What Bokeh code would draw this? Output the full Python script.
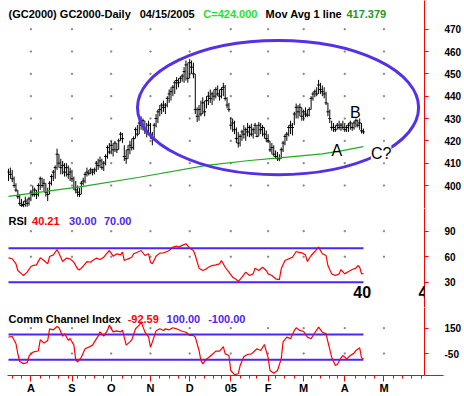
from bokeh.plotting import figure
from bokeh.layouts import column
from bokeh.models import Range1d, FixedTicker, Label
from bokeh.embed import file_html
from bokeh.resources import INLINE

FONT = "Liberation Sans"

# ---------------- data (daily bars, index 0 = 07/15/2004, last = 04/15/2005) -------------
high = [407.5, 408, 407, 404, 401, 398, 396, 394, 393, 395,
        394, 395, 398, 400, 399, 398, 401, 404, 403.5, 403,
        401, 399, 402, 405, 407, 409, 416.5, 414, 412, 411,
        410, 410, 409, 408, 407, 404, 402, 400, 399, 402,
        403.5, 406, 408, 407, 408, 407.5, 408, 411, 412, 413,
        412, 411, 414, 418, 419, 420, 419, 420, 419, 421,
        424, 423.5, 418, 416, 418, 420, 421, 422, 426, 427,
        429, 431, 430, 429, 428, 429, 428, 424, 428, 432,
        434, 436, 437, 438, 437, 440, 443, 444, 445, 447,
        448.5, 448, 449, 450, 453, 456, 455, 456.7, 456, 455,
        450, 435, 436, 438, 439.5, 438, 440, 442, 443, 442,
        443, 444, 444.8, 443, 444, 446, 445, 439.5, 437, 430.6,
        430, 429, 426, 424, 423, 425, 427, 426, 428, 427,
        427.7, 426, 428, 427, 428.4, 428, 427, 426, 424.6, 423,
        420, 419, 418, 415.7, 415, 414, 417, 420, 423, 424,
        427, 429, 428, 433, 436.7, 436, 436.7, 435, 434, 435,
        434, 435, 440, 442, 443, 444, 447.3, 446, 444.8, 444,
        442, 437, 434, 429, 428, 427, 428, 429, 428, 429,
        428, 427, 428, 429, 428, 429, 430, 429.5, 430, 428,
        425.5]
low = [402, 403, 401.5, 399, 397, 394, 391, 390.5, 390.3, 390.5,
       390.5, 391, 393, 395, 395, 394, 395, 398, 399, 397,
       395, 393, 396, 400, 402, 403, 407, 408, 405, 405,
       404, 404, 403, 402, 401.5, 398, 396.5, 395, 394.8, 396,
       400, 401, 404, 404.5, 405, 404.5, 405, 406, 407, 408,
       407, 406.5, 409, 412, 414, 414, 413, 415, 414.5, 416,
       420, 419, 411, 409.7, 412, 414, 415.7, 416, 421, 422,
       423, 425, 424.6, 423, 421.6, 423, 421, 418, 421, 426,
       428, 431, 432, 433, 432, 435, 437, 438, 440, 441,
       443, 444, 446, 446.5, 446, 447, 446, 448, 450, 448,
       432, 428.4, 429, 431, 432, 431, 434.5, 436, 437, 436,
       438, 439, 440, 438, 439, 440, 438, 434.5, 433, 425,
       424, 423, 419, 417, 417.5, 420, 421, 420, 422, 421.6,
       422, 421, 423, 421.6, 422, 423, 422, 421, 419.4, 419,
       415, 414, 413, 412, 411, 410.9, 412, 415, 418, 420,
       422, 423, 422.4, 427, 430, 430, 431, 429, 429, 430.6,
       430.6, 431, 434, 438, 439.5, 440, 441, 441, 440, 439,
       436, 431, 428, 424.6, 424, 424, 425, 425, 424.5, 425,
       424, 424, 424, 425, 424.5, 425, 426, 426, 425, 423.3,
       423]
close = [406, 405, 403, 400, 398, 395, 392, 391, 391.5, 393,
         392, 394, 397, 396, 398, 396, 400, 403, 400, 401,
         397, 396, 401, 404, 406, 408, 414, 410, 408, 409,
         406, 408, 405, 406, 403, 399, 398, 397, 396, 401,
         402, 405, 406, 405.5, 407, 406, 407, 410, 409, 411,
         408, 410, 413, 417, 415, 418, 416, 419, 416, 420,
         423, 421, 413, 412, 416, 418, 417, 421, 425, 423,
         428, 427, 429, 425, 424, 427, 423, 421, 427, 430,
         433, 434, 436, 435, 436, 439, 441, 442, 444, 446,
         447, 446, 448, 449, 451, 454, 448, 455, 453, 450,
         434, 431, 434, 432, 437, 433, 438, 440, 439, 441,
         440, 443, 441, 440, 443, 444, 439, 436, 434, 427,
         428, 425, 421, 419, 422, 424, 423, 425, 424, 426,
         423, 425, 427, 422, 427, 425, 426, 423, 421, 420,
         416, 417, 414, 413, 412, 412, 416, 419, 422, 423,
         426, 427, 426, 432, 435, 433, 435, 431, 433, 432,
         431.5, 434, 439, 441, 442, 441, 445, 443, 442, 441,
         437, 433, 430, 426, 426, 425, 427, 426, 427, 426,
         425, 426, 427, 428, 426, 428, 429, 427, 428, 424.5,
         424]

# moving average line, read at a few bars
ma_bar = [0, 40, 70, 106, 129, 145, 168, 178, 190]
ma_val = [395.1, 399.6, 403.7, 409.0, 411.2, 412.4, 414.2, 415.5, 417.379]

# RSI readings (bar, value)
rsi_bar = [0, 2, 4, 5, 7, 8, 10, 12, 13, 15, 17, 19, 21, 22, 24, 26, 28, 29, 31, 33,
           35, 37, 38, 40, 42, 44, 45, 47, 49, 51, 52, 54, 56, 58, 60, 61, 62, 64, 66, 67,
           69, 71, 73, 75, 76, 77, 79, 81, 83, 84, 86, 88, 90, 91, 93, 95, 97, 99, 100, 102,
           104, 106, 107, 109, 111, 113, 114, 116, 118, 120, 122, 123, 125, 127, 129, 131, 132, 134, 136, 138,
           139, 141, 143, 145, 146, 148, 150, 152, 154, 155, 157, 159, 160, 162, 164, 166, 168, 170, 171, 173,
           175, 177, 178, 180, 182, 184, 186, 187, 188, 189, 190]
rsi_val = [58.7, 57.6, 51.6, 43.8, 39.8, 37.9, 41.8, 48.5, 49.6, 50.4, 58.7, 55.5, 51.6, 60.2, 62.2, 68.4, 59.4, 54.3, 58.3, 57.5,
           53.5, 45.7, 44.5, 48.8, 54.3, 53.5, 55.5, 58.3, 56.7, 59.4, 62.2, 67.3, 60.6, 63.4, 62.2, 65.3, 55.5, 57.5, 59.4, 63.4,
           65.3, 67.3, 61.4, 63.4, 53.5, 51.6, 60.6, 64.2, 64.6, 65.3, 67.3, 71.3, 72.5, 71.3, 73.3, 75.3, 70.0, 67.3, 61.4, 46.5,
           43.7, 45.7, 47.6, 49.6, 50.4, 51.6, 55.5, 47.6, 41.8, 35.9, 33.1, 30.8, 35.9, 41.8, 37.9, 39.8, 46.5, 43.7, 47.6, 43.7,
           39.8, 37.9, 34.0, 33.1, 45.7, 55.5, 57.5, 59.4, 66.1, 65.3, 64.5, 62.2, 54.3, 61.4, 66.1, 71.3, 63.4, 61.4, 49.6, 39.8,
           37.9, 39.8, 44.9, 39.8, 42.6, 44.9, 46.5, 49.6, 47.6, 39.8, 40.21]
rsi_levels = [30, 70]
rsi_ticks = [30, 60, 90]

# Commodity Channel Index readings (bar, value)
cci_bar = [0, 2, 4, 5, 6, 8, 10, 11, 13, 14, 16, 17, 19, 21, 22, 24, 26, 27, 29, 30,
           32, 33, 35, 36, 37, 39, 41, 43, 45, 46, 48, 49, 51, 53, 54, 56, 58, 60, 61, 63,
           65, 66, 68, 70, 71, 73, 75, 76, 77, 79, 81, 83, 84, 86, 88, 90, 92, 93, 95, 97,
           99, 100, 102, 103, 104, 106, 107, 109, 111, 113, 115, 116, 118, 119, 121, 123, 124, 126, 128, 130,
           131, 133, 135, 137, 139, 140, 142, 144, 146, 147, 149, 151, 153, 154, 156, 158, 160, 162, 163, 166,
           168, 170, 171, 173, 175, 176, 178, 179, 181, 183, 185, 186, 188, 189, 190]
cci_val = [79, 84, 27, -52, -113, -130, -122, -70, -40, -35, -30, 58, 32, 53, 145, 137, 163, 153, 87, 108,
           55, 68, 16, -100, -117, -80, -13, 0, 16, 42, 87, 121, 87, 134, 174, 121, 129, 121, 134, 16,
           42, 58, 145, 174, 200, 121, 79, 0, 40, 130, 145, 132, 145, 137, 153, 145, 132, 126, 118, 92,
           92, 79, -26, -105, -132, -92, -84, -58, -31, -31, 5, -53, -66, -184, -216, -210, -145, -74, -58, -53,
           -40, -13, -26, 21, -84, -184, -205, -184, -92, 42, 79, 66, 132, 153, 132, 124, 79, 66, 92, 158,
           118, 105, 42, -79, -145, -137, -84, -66, -92, -66, -47, -26, -5, -84, -92.59]
cci_levels = [100, -100]
cci_ticks = [150, -50]
cci_tick_labels = {150: "150", -50: "-50"}

price_ticks = [400, 410, 420, 430, 440, 450, 460, 470]

month_start_bar = [12, 34, 55, 76, 97, 119, 139, 158, 180, 201]
month_labels = ["A", "S", "O", "N", "D", "05", "F", "M", "A", "M"]
week_bar = [2, 7, 17, 22, 27, 32, 37, 41, 46, 51, 61, 66, 71, 81, 86, 91, 95, 100, 105, 110,
            114, 124, 129, 133, 143, 148, 153, 162, 167, 172, 176, 186, 191, 196, 206, 211, 216, 221]

# drawn ellipse annotation (bar units / price units)
ell_x, ell_y, ell_w, ell_h = 144.3, 434.9, 150.5, 60.1

# ---------------------------------------------------------------------------------------
bars = list(range(len(close)))
x_range = Range1d(-0.53, 222.7)

PURPLE = "#4f24f5"
ELL = "#5530e8"


def make_fig(height, y_range, bottom=False):
    p = figure(width=464, height=height, x_range=x_range, y_range=y_range,
               output_backend="svg", toolbar_location=None, title=None,
               x_axis_location="below" if bottom else None, y_axis_location="right",
               min_border_left=7, min_border_right=37, min_border_top=0,
               min_border_bottom=21 if bottom else 0)
    p.outline_line_color = None
    p.xgrid.visible = False
    p.ygrid.visible = False
    p.background_fill_color = "white"
    p.border_fill_color = "white"
    ax = p.yaxis[0]
    ax.axis_line_color = "red"
    ax.major_tick_line_color = "red"
    ax.minor_tick_line_color = "red"
    ax.major_tick_out = 4
    ax.major_tick_in = 0
    ax.minor_tick_out = 19
    ax.minor_tick_in = 0
    ax.major_label_standoff = 1
    ax.major_label_text_font = FONT
    ax.major_label_text_font_size = "10px"
    ax.major_label_text_font_style = "bold"
    ax.major_label_text_color = "black"
    return p


def lab(p, x, y, text, color="black", size="11px", style="bold", bg=None):
    l = Label(x=x, y=y, text=text, text_color=color, text_font=FONT,
              text_font_size=size, text_font_style=style,
              text_baseline="alphabetic", text_align="left")
    if bg is not None:
        l.background_fill_color = bg
    p.add_layout(l)


def grid_dots(p, ys):
    gx = [m for m in month_start_bar for _ in ys]
    gy = [v for _ in month_start_bar for v in ys]
    p.scatter(gx, gy, marker="square", size=1.2, color="#8a8a8a")


# ---------------- price panel ----------------
p1 = make_fig(208, Range1d(389.7, 482.85))
p1.yaxis[0].ticker = FixedTicker(ticks=price_ticks, minor_ticks=[389.78])
grid_dots(p1, price_ticks)
p1.segment(x0=bars, y0=low, x1=bars, y1=high, line_color="black", line_width=1)
p1.scatter(bars, close, marker="dash", size=3, line_color="black", line_width=1)
p1.line(ma_bar, ma_val, line_color="#22aa22", line_width=1.2)
p1.ellipse(x=[ell_x], y=[ell_y], width=[ell_w], height=[ell_h],
           fill_color=None, line_color=ELL, line_width=3)

title_y = 476.7
lab(p1, 0, title_y, "(GC2000) GC2000-Daily")
lab(p1, 70.2, title_y, "04/15/2005")
lab(p1, 104.3, title_y, "C=%.3f" % close[-1], color="#22e622")
lab(p1, 137.6, title_y, "Mov Avg 1 line")
lab(p1, 180.9, title_y, "%.3f" % ma_val[-1], color="#1a9a1a")
lab(p1, 172.9, 415.7, "A", size="16px", style="normal")
lab(p1, 182.8, 432.8, "B", size="16px", style="normal")
lab(p1, 194.0, 414.2, "C?", size="16px", style="normal", bg="white")

# ---------------- RSI panel ----------------
p2 = make_fig(99, Range1d(0.24, 116.7))
p2.yaxis[0].ticker = FixedTicker(ticks=rsi_ticks, minor_ticks=[0.4])
grid_dots(p2, [90, 60])
for lv in rsi_levels:
    p2.line([bars[0], bars[-1]], [lv, lv], line_color=PURPLE, line_width=2)
p2.line(rsi_bar, rsi_val, line_color="red", line_width=1.2)
lab(p2, 0, 101.8, "RSI")
lab(p2, 12.6, 101.8, "%.2f" % rsi_val[-1], color="red")
lab(p2, 32.4, 101.8, "%.2f" % rsi_levels[0], color=PURPLE)
lab(p2, 51.1, 101.8, "%.2f" % rsi_levels[1], color=PURPLE)
lab(p2, 184.6, 18.2, "40", size="16px", bg="white")
lab(p2, 219.5, 18.2, "4", size="16px")

# ---------------- CCI panel ----------------
p3 = make_fig(89, Range1d(-223.6, 313.1), bottom=True)
p3.yaxis[0].ticker = FixedTicker(ticks=cci_ticks, minor_ticks=[-223.3])
p3.yaxis[0].major_label_overrides = cci_tick_labels
grid_dots(p3, cci_ticks)
for lv in cci_levels:
    p3.line([bars[0], bars[-1]], [lv, lv], line_color=PURPLE, line_width=2)
p3.line(cci_bar, cci_val, line_color="red", line_width=1.2)
lab(p3, 0, 218.4, "Comm Channel Index")
lab(p3, 63.8, 218.4, "%.2f" % cci_val[-1], color="red")
lab(p3, 84.6, 218.4, "%.2f" % cci_levels[0], color=PURPLE)
lab(p3, 106.9, 218.4, "%.2f" % cci_levels[1], color=PURPLE)

xa = p3.xaxis[0]
xa.ticker = FixedTicker(ticks=month_start_bar, minor_ticks=week_bar)
xa.major_label_overrides = {b: m for b, m in zip(month_start_bar, month_labels)}
xa.axis_line_color = "red"
xa.major_tick_line_color = "red"
xa.minor_tick_line_color = "red"
xa.major_tick_out = 6
xa.major_tick_in = 0
xa.minor_tick_out = 3
xa.minor_tick_in = 0
xa.major_label_standoff = 0
xa.major_label_text_font = FONT
xa.major_label_text_font_size = "11px"
xa.major_label_text_font_style = "bold"
xa.major_label_text_color = "black"

layout = column(p1, p2, p3, spacing=0)

open("out.html", "w").write(file_html(layout, INLINE))
